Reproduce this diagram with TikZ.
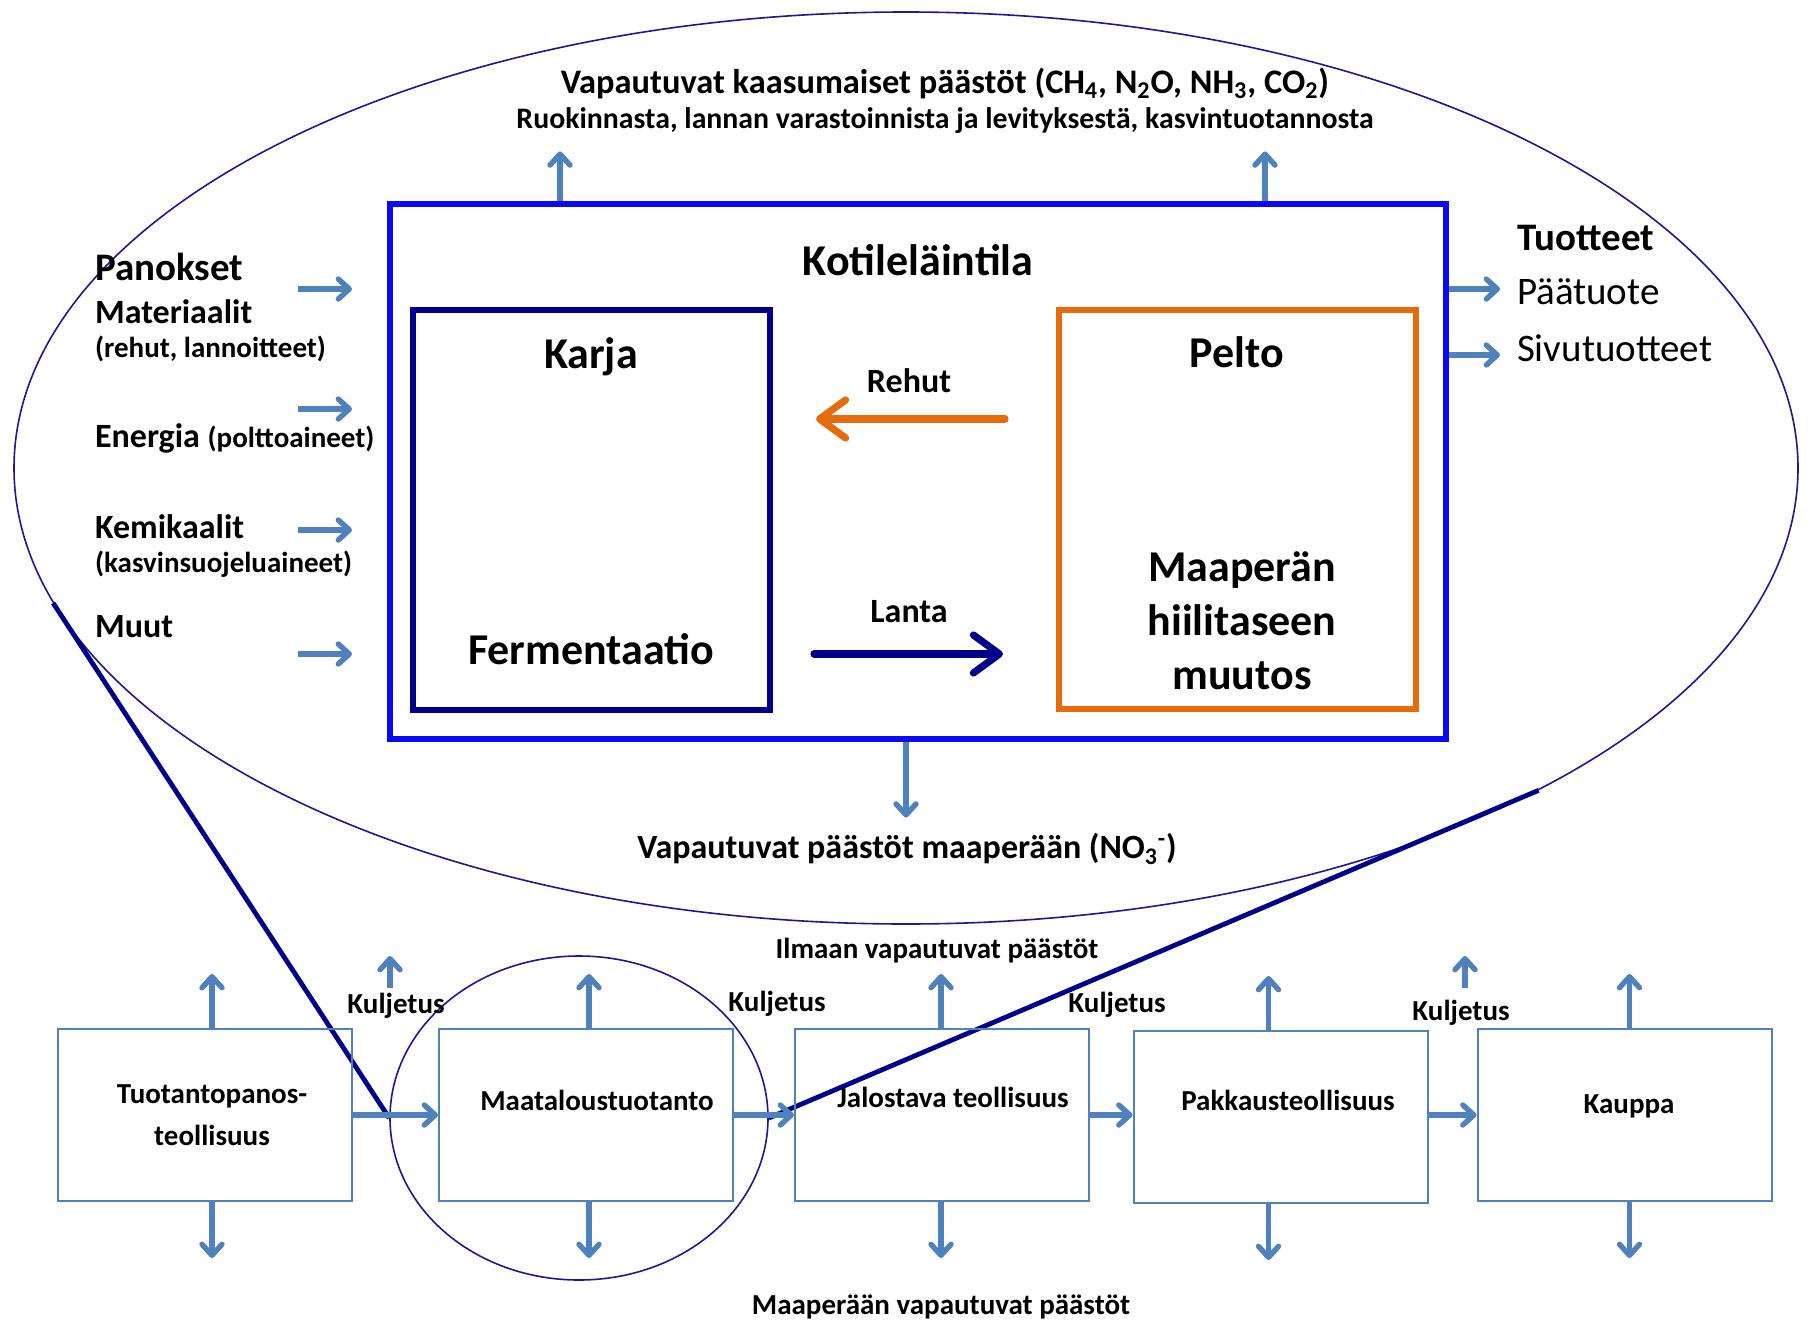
\documentclass[tikz,border=0pt]{standalone}
\usepackage{fontspec}
\setmainfont{Carlito}
\usetikzlibrary{arrows.meta,shapes.geometric}
\definecolor{farmblue}{RGB}{10,10,245}
\definecolor{navy}{RGB}{0,0,140}
\definecolor{orng}{RGB}{228,108,10}
\definecolor{steel}{RGB}{79,129,189}
\definecolor{ellc}{RGB}{25,25,150}
\begin{document}
\begin{tikzpicture}[x=0.5pt,y=-0.5pt,
  arr/.style={draw=steel, line width=2.7pt, -{Straight Barb[length=5.5pt,width=10pt,round]}},
  bigarr/.style={line width=3.6pt, line cap=round, -{Straight Barb[length=13pt,width=19pt,round]}},
  chainbox/.style={draw=steel, line width=1pt, minimum width=147pt, minimum height=86pt, inner sep=0pt},
  t22/.style={font=\bfseries\fontsize{22}{26}\selectfont},
  t19/.style={font=\bfseries\fontsize{19.5}{23}\selectfont},
  t17/.style={font=\bfseries\fontsize{17}{20}\selectfont},
  t15/.style={font=\bfseries\fontsize{14.5}{17}\selectfont},
  tr19/.style={font=\fontsize{19.5}{23}\selectfont}]
\useasboundingbox (0,0) rectangle (1811,1323);

% big ellipse
\node[ellipse, draw=ellc, line width=0.8pt, minimum width=892pt, minimum height=456pt, inner sep=0pt] (big) at (906,468) {};
% small ellipse
\node[ellipse, draw=ellc, line width=0.8pt, minimum width=189pt, minimum height=162pt, inner sep=0pt] (small) at (579,1118) {};
% zoom lines
\draw[navy, line width=2.4pt] (big.189.6) -- (small.west);
\draw[navy, line width=2.4pt] (big.333) -- (small.east);

% farm boxes
\node[draw=farmblue, line width=2.6pt, minimum width=528pt, minimum height=267.5pt, inner sep=0pt] (farm) at (918,471.5) {};
\node[draw=navy, line width=2.6pt, minimum width=178.5pt, minimum height=200pt, inner sep=0pt] (karja) at (591.5,510) {};
\node[draw=orng, line width=2.6pt, minimum width=178.5pt, minimum height=199.5pt, inner sep=0pt] (pelto) at (1237.5,509.5) {};

\node[t22] (farmt) at (918,260) {Kotileläintila};
\node[t22] (karjat) at (591,357) {Karja};
\node[t22] (fermt) at (591,649) {Fermentaatio};
\node[t22] (peltot) at (1237,352) {Pelto};
\node[align=center, font=\bfseries\fontsize{22}{27}\selectfont] (maat) at (1242,621) {Maaperän\\hiilitaseen\\muutos};

% Rehut / Lanta
\coordinate (rh1) at (1005,419); \coordinate (rh2) at (816,419);
\coordinate (la1) at (814,654); \coordinate (la2) at (1003,654);
\draw[bigarr, orng] (rh1) -- (rh2);
\draw[bigarr, navy] (la1) -- (la2);
\node[t17] (rehut) at (909,381) {Rehut};
\node[t17] (lanta) at (909,612) {Lanta};

% top gases
\node[font=\bfseries\fontsize{17.2}{20}\selectfont] (gas1) at (945,83) {Vapautuvat kaasumaiset päästöt (CH\textsubscript{4}, N\textsubscript{2}O, NH\textsubscript{3}, CO\textsubscript{2})};
\node[font=\bfseries\fontsize{14.9}{17}\selectfont] (gas2) at (945,121) {Ruokinnasta, lannan varastoinnista ja levityksestä, kasvintuotannosta};
\draw[arr] ([xshift=-179pt]farm.north) -- ++(0,-50);
\draw[arr] ([xshift=173.5pt]farm.north) -- ++(0,-50);

% soil
\draw[arr] ([xshift=-6pt]farm.south) -- ++(0,76);
\node[t17] (soil) at (907,849) {Vapautuvat päästöt maaperään (NO\textsubscript{3}\textsuperscript{-})};

% inputs
\node[t19, anchor=west] (pan) at (88,267) {Panokset};
\node[t17, anchor=west] (mat) at (88,312) {Materiaalit};
\node[t15, anchor=west] (math) at (88,349) {(rehut, lannoitteet)};
\node[t17, anchor=west] (ene) at (88,438) {Energia {\fontsize{14.5}{17}\selectfont(polttoaineet)}};
\node[t17, anchor=west] (kem) at (88,527) {Kemikaalit};
\node[t15, anchor=west] (kemh) at (88,564) {(kasvinsuojeluaineet)};
\node[t17, anchor=west] (muu) at (88,627) {Muut};
\foreach \i/\yy in {1/289,2/409,3/530,4/654}{
  \coordinate (in\i a) at (298,\yy); \coordinate (in\i b) at (352,\yy);
  \draw[arr] (in\i a) -- (in\i b);
}

% outputs
\node[t19, anchor=west] (tuo) at (1510,238) {Tuotteet};
\node[tr19, anchor=west] (paa) at (1510,292) {Päätuote};
\node[tr19, anchor=west] (siv) at (1510,348) {Sivutuotteet};
\coordinate (o1) at (1500,289); \coordinate (o2) at (1500,355);
\draw[arr] (farm.east |- o1) -- (o1);
\draw[arr] (farm.east |- o2) -- (o2);

% chain
\node[chainbox] (b1) at (205,1115) {};
\node[chainbox] (b2) at (586,1115) {};
\node[chainbox] (b3) at (942,1115) {};
\node[chainbox] (b4) at (1280.5,1117) {};
\node[chainbox] (b5) at (1624.5,1115) {};
\node[align=center, font=\bfseries\fontsize{14.5}{21}\selectfont] (b1t) at (212,1115) {Tuotantopanos-\\teollisuus};
\node[t15] (b2t) at (597,1100) {Maataloustuotanto};
\node[t15] (b3t) at (953,1097) {Jalostava teollisuus};
\node[t15] (b4t) at (1288,1100) {Pakkausteollisuus};
\node[t15] (b5t) at (1629,1106) {Kauppa};

\draw[arr] (b1.east) -- (b2.west);
\draw[arr] (b2.east) -- (b3.west);
\draw[arr] (b3.east) -- (b3.east -| b4.west);
\draw[arr] ([yshift=1pt]b4.east) -- ([yshift=1pt]b4.east -| b5.west);

\foreach \b/\dx in {b1/3.5,b2/1.5,b3/-0.5,b4/-6,b5/2.5}{
  \draw[arr] ([xshift=\dx pt]\b.north) -- ++(0,-54);
  \draw[arr] ([xshift=\dx pt]\b.south) -- ++(0,56);
}
\coordinate (k1) at (390,988); \coordinate (k2) at (1465,988);
\draw[arr] (k1) -- ++(0,-32);
\draw[arr] (k2) -- ++(0,-32);

\node[t15] (kul1) at (396,1006) {Kuljetus};
\node[t15] (kul2) at (777,1004) {Kuljetus};
\node[t15] (kul3) at (1117,1005) {Kuljetus};
\node[t15] (kul4) at (1461,1013) {Kuljetus};
\node[t15] (ilma) at (937,951) {Ilmaan vapautuvat päästöt};
\node[t15] (maap) at (941,1307) {Maaperään vapautuvat päästöt};
\end{tikzpicture}
\end{document}
